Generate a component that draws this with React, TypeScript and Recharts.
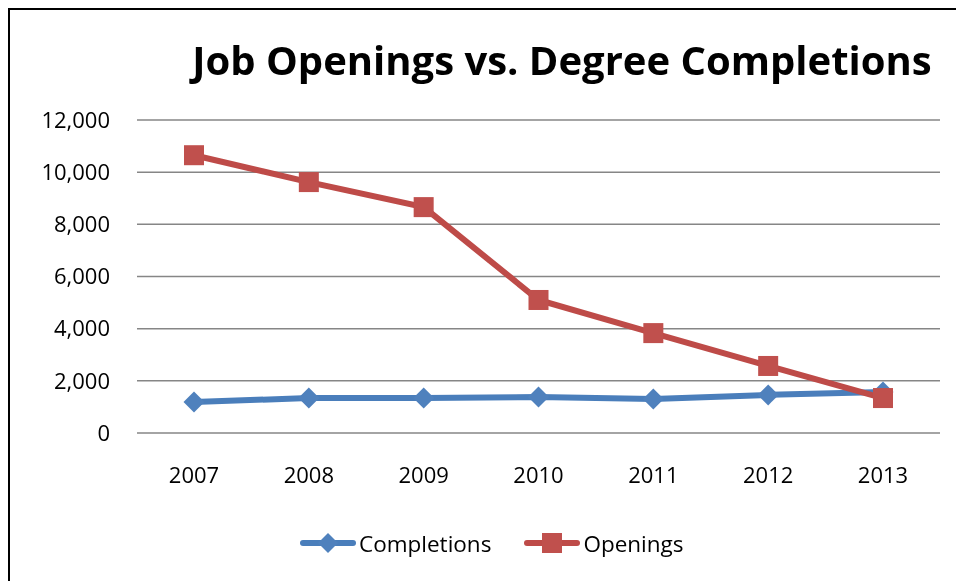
import { CartesianGrid, Legend, Line, LineChart, XAxis, YAxis } from "recharts"

const years = ["2007", "2008", "2009", "2010", "2011", "2012", "2013"]
const completions = [1190, 1340, 1340, 1380, 1300, 1460, 1570]
const openings = [10650, 9620, 8660, 5100, 3830, 2570, 1340]
const yTicks = [0, 2000, 4000, 6000, 8000, 10000, 12000]

const data = years.map((year, i) => ({ year, completions: completions[i], openings: openings[i] }))

const font = "'Open Sans', sans-serif"
const blueLine = "#4A7EBB"
const blueMark = "#4F81BD"
const redLine = "#BE4B48"
const redMark = "#C0504D"

function Diamond(props: any) {
  const { cx, cy } = props
  if (cx == null || cy == null) return null
  const r = 10.5
  return <path d={`M${cx},${cy - r}L${cx + r},${cy}L${cx},${cy + r}L${cx - r},${cy}Z`} fill={blueMark} />
}

function Square(props: any) {
  const { cx, cy } = props
  if (cx == null || cy == null) return null
  return <rect x={cx - 10} y={cy - 10} width={20} height={20} fill={redMark} />
}

function LegendIcon({ color, mark }: { color: string; mark: "diamond" | "square" }) {
  return (
    <svg width={56} height={22} style={{ display: "block" }}>
      <line x1={3} y1={11} x2={53} y2={11} stroke={color} strokeWidth={6} strokeLinecap="round" />
      {mark === "diamond" ? (
        <path d="M28,1L38,11L28,21L18,11Z" fill={blueMark} />
      ) : (
        <rect x={18} y={1} width={20} height={20} fill={redMark} />
      )}
    </svg>
  )
}

function LegendContent() {
  return (
    <div style={{ display: "flex", alignItems: "center", fontFamily: font, fontSize: 22.5, color: "#000", height: 30 }}>
      <LegendIcon color={blueLine} mark="diamond" />
      <span style={{ marginLeft: 3 }}>Completions</span>
      <span style={{ width: 33 }} />
      <LegendIcon color={redLine} mark="square" />
      <span style={{ marginLeft: 3 }}>Openings</span>
    </div>
  )
}

export default function App() {
  return (
    <div style={{ position: "relative", width: 948, height: 565 }}>
      <div
        style={{
          position: "fixed",
          left: 8,
          top: 8,
          width: 2000,
          height: 2000,
          borderTop: "2px solid #000",
          borderLeft: "2px solid #000",
          pointerEvents: "none",
        }}
      />
      <div
        style={{
          position: "absolute",
          left: 104,
          top: 32,
          width: 900,
          textAlign: "center",
          fontFamily: font,
          fontWeight: 700,
          fontSize: 40,
          lineHeight: "40px",
          color: "#000",
        }}
      >
        Job Openings vs. Degree Completions
      </div>
      <LineChart width={948} height={565} data={data} margin={{ top: 112, right: 16, left: 0, bottom: 0 }}>
        <CartesianGrid vertical={false} stroke="#868686" strokeWidth={1.5} />
        <XAxis
          dataKey="year"
          height={110}
          padding={{ left: 57, right: 57 }}
          axisLine={false}
          tickLine={false}
          tickSize={0}
          tickMargin={34}
          tick={{ fill: "#000", fontSize: 22, fontFamily: font }}
        />
        <YAxis
          width={129}
          domain={[0, 12000]}
          ticks={yTicks}
          axisLine={false}
          tickLine={false}
          tickSize={0}
          tickMargin={27}
          tickFormatter={(v: number) => v.toLocaleString("en-US")}
          tick={{ fill: "#000", fontSize: 22, fontFamily: font }}
        />
        <Legend
          verticalAlign="bottom"
          content={<LegendContent />}
          wrapperStyle={{ left: 292, top: 520, bottom: "auto", width: 440, height: 30 }}
        />
        <Line
          dataKey="completions"
          name="Completions"
          stroke={blueLine}
          strokeWidth={6}
          dot={<Diamond />}
          activeDot={false}
          isAnimationActive={false}
        />
        <Line
          dataKey="openings"
          name="Openings"
          stroke={redLine}
          strokeWidth={6}
          dot={<Square />}
          activeDot={false}
          isAnimationActive={false}
        />
      </LineChart>
    </div>
  )
}
